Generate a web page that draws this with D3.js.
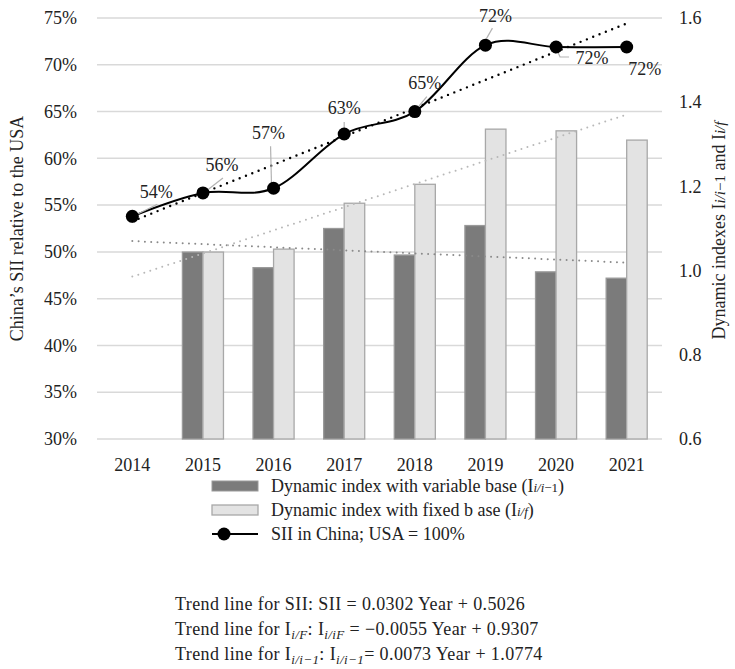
<!DOCTYPE html>
<html>
<head>
<meta charset="utf-8">
<script src="https://cdn.jsdelivr.net/npm/d3@7"></script>
<style>
  html, body { margin: 0; padding: 0; background: #fff; }
  svg text { font-family: "Liberation Serif", "Times New Roman", serif; fill: #222; }
</style>
</head>
<body>
<svg id="chart" width="735" height="669"></svg>
<script>
// Years on the category axis
const years = ["2014", "2015", "2016", "2017", "2018", "2019", "2020", "2021"];
// China's SII relative to the USA (share, USA = 1)
const sii = [0.538, 0.563, 0.568, 0.626, 0.650, 0.721, 0.719, 0.719];
// Dynamic index with variable base (I i/i-1); no value for 2014
const varBase = [null, 1.044, 1.007, 1.100, 1.037, 1.107, 0.997, 0.982];
// Dynamic index with fixed base (I i/f); no value for 2014
const fixBase = [null, 1.044, 1.051, 1.160, 1.205, 1.336, 1.332, 1.310];
// Linear trend coefficients [slope, intercept], Year = 1..8
const trendSII = [0.0302, 0.5026];
const trendFix = [0.0550, 0.9307];
const trendVar = [-0.0073, 1.0774];
// Tick values
const leftTicks = [0.30, 0.35, 0.40, 0.45, 0.50, 0.55, 0.60, 0.65, 0.70, 0.75];
const rightTicks = [0.6, 0.8, 1.0, 1.2, 1.4, 1.6];

const svg = d3.select("#chart");
const plotL = 97, plotR = 662, plotT = 18, plotB = 439;

const x = d3.scaleBand().domain(years).range([plotL, plotR]).padding(0);
const cx = d => x(d) + x.bandwidth() / 2;
const yL = d3.scaleLinear().domain([0.30, 0.75]).range([plotB, plotT]);
const yR = d3.scaleLinear().domain([0.6, 1.6]).range([plotB, plotT]);
const sub = d3.scaleBand().domain(["var", "fix"]).range([0, x.bandwidth()]).paddingInner(0).paddingOuter(0.72);

// Gridlines
svg.append("g").selectAll("line").data(leftTicks).join("line")
  .attr("x1", plotL).attr("x2", plotR)
  .attr("y1", d => yL(d)).attr("y2", d => yL(d))
  .attr("stroke", "#d9d9d9").attr("stroke-width", 1.5);

// Left axis labels
const axL = svg.append("g").attr("transform", `translate(${plotL - 20},0)`)
  .call(d3.axisLeft(yL).tickValues(leftTicks).tickFormat(d3.format(".0%")).tickSize(0).tickPadding(0));
axL.select(".domain").remove();
axL.selectAll("text").attr("font-size", 18).attr("font-family", "Liberation Serif").attr("fill", "#222");

// Right axis labels
const axR = svg.append("g").attr("transform", `translate(${plotR + 17},0)`)
  .call(d3.axisRight(yR).tickValues(rightTicks).tickFormat(d3.format(".1f")).tickSize(0).tickPadding(0));
axR.select(".domain").remove();
axR.selectAll("text").attr("font-size", 18).attr("font-family", "Liberation Serif").attr("fill", "#222");

// Category labels
const axX = svg.append("g").attr("transform", `translate(0,${plotB + 16})`)
  .call(d3.axisBottom(x).tickSize(0).tickPadding(0));
axX.select(".domain").remove();
axX.selectAll("text").attr("font-size", 18).attr("font-family", "Liberation Serif").attr("fill", "#222").attr("dy", "0.9em");

// Bars
const barData = [];
years.forEach((yr, i) => {
  if (varBase[i] != null) barData.push({ year: yr, key: "var", v: varBase[i] });
  if (fixBase[i] != null) barData.push({ year: yr, key: "fix", v: fixBase[i] });
});
svg.append("g").selectAll("rect").data(barData).join("rect")
  .attr("x", d => x(d.year) + sub(d.key))
  .attr("width", sub.bandwidth())
  .attr("y", d => yR(d.v))
  .attr("height", d => yR(0.6) - yR(d.v))
  .attr("fill", d => d.key === "var" ? "#7b7b7b" : "#e3e3e3")
  .attr("stroke", d => d.key === "var" ? "#9a9a9a" : "#a8a8a8")
  .attr("stroke-width", 1.3);

// Trend lines
const trendLine = (coef, scale, color, width, gap) => {
  const tp = years.map((yr, i) => [cx(yr), scale(coef[0] * (i + 1) + coef[1])]);
  svg.append("path").attr("d", d3.line()([tp[0], tp[tp.length - 1]]))
    .attr("fill", "none").attr("stroke", color).attr("stroke-width", width)
    .attr("stroke-linecap", "round").attr("stroke-dasharray", `0 ${gap}`);
};
trendLine(trendVar, yR, "#8a8a8a", 2, 6.3);
trendLine(trendFix, yR, "#b8b8b8", 2, 6.3);
trendLine(trendSII, yL, "#000", 2.4, 6.8);

// SII line
const pts = years.map((yr, i) => [cx(yr), yL(sii[i])]);
svg.append("path").attr("d", d3.line().curve(d3.curveCardinal.tension(0))(pts))
  .attr("fill", "none").attr("stroke", "#000").attr("stroke-width", 2);

// Leader lines and value labels
const labelLayout = [
  { t: [24, -24], lead: [[3, -1], [25, -12]] },
  { t: [19, -28], lead: [[2, -1], [20, -15]] },
  { t: [-5, -55], lead: [[-3, -42], [-2, -1]] },
  { t: [0, -26], lead: [[0, -12], [0, -2]] },
  { t: [10, -29], lead: [[2, -3], [12, -15]] },
  { t: [10, -29], lead: [[-1, -3], [7, -17]] },
  { t: [36, 11], lead: [[0, 1], [4, 10], [13, 10]] },
  { t: [18, 22], lead: null }
];
pts.forEach((p, i) => {
  const L = labelLayout[i];
  if (L.lead) {
    svg.append("path")
      .attr("d", d3.line()(L.lead.map(o => [p[0] + o[0], p[1] + o[1]])))
      .attr("fill", "none").attr("stroke", "#b3b3b3").attr("stroke-width", 1.2);
  }
});
svg.append("g").selectAll("circle").data(pts).join("circle")
  .attr("cx", d => d[0]).attr("cy", d => d[1]).attr("r", 6.5).attr("fill", "#000");
pts.forEach((p, i) => {
  const L = labelLayout[i];
  svg.append("text")
    .attr("x", p[0] + L.t[0]).attr("y", p[1] + L.t[1] + 6)
    .attr("text-anchor", "middle").attr("font-size", 18)
    .text(Math.round(sii[i] * 100) + "%");
});

// Axis titles
svg.append("text")
  .attr("transform", `translate(23,${(plotT + plotB) / 2}) rotate(-90)`)
  .attr("text-anchor", "middle").attr("font-size", 18)
  .text("China\u2019s SII relative to the USA");

const rt = svg.append("text")
  .attr("transform", `translate(725,${(plotT + plotB) / 2 + 2}) rotate(-90)`)
  .attr("text-anchor", "middle").attr("font-size", 18);
rt.append("tspan").text("Dynamic indexes I");
rt.append("tspan").attr("font-size", 15).attr("font-style", "italic").text("i/i");
rt.append("tspan").attr("font-size", 15).text("\u22121");
rt.append("tspan").text(" and I");
rt.append("tspan").attr("font-size", 15).attr("font-style", "italic").text("i/f");

// Legend
const lg = svg.append("g");
const lx = 212, lw = 46, tx = 271;
const rowY = [486, 510, 534];
lg.append("rect").attr("x", lx).attr("y", rowY[0] - 5).attr("width", lw).attr("height", 10)
  .attr("fill", "#7b7b7b").attr("stroke", "#9a9a9a").attr("stroke-width", 1);
lg.append("rect").attr("x", lx).attr("y", rowY[1] - 5).attr("width", lw).attr("height", 10)
  .attr("fill", "#e3e3e3").attr("stroke", "#a8a8a8").attr("stroke-width", 1.3);
lg.append("line").attr("x1", lx).attr("x2", lx + lw).attr("y1", rowY[2]).attr("y2", rowY[2])
  .attr("stroke", "#000").attr("stroke-width", 2);
lg.append("circle").attr("cx", lx + 12).attr("cy", rowY[2]).attr("r", 6.5).attr("fill", "#000");

const l1 = lg.append("text").attr("x", tx).attr("y", rowY[0] + 6).attr("font-size", 18);
l1.append("tspan").text("Dynamic index with variable base (I");
l1.append("tspan").attr("font-size", 13).attr("font-style", "italic").text("i/i");
l1.append("tspan").attr("font-size", 13).text("\u22121");
l1.append("tspan").text(")");
const l2 = lg.append("text").attr("x", tx).attr("y", rowY[1] + 6).attr("font-size", 18);
l2.append("tspan").text("Dynamic index with fixed b ase (I");
l2.append("tspan").attr("font-size", 13).attr("font-style", "italic").text("i/f");
l2.append("tspan").text(")");
lg.append("text").attr("x", tx).attr("y", rowY[2] + 6).attr("font-size", 18)
  .text("SII in China; USA = 100%");

// Trend equations
const eq = svg.append("g").attr("letter-spacing", "0.4px");
const ex = 175, eqY = [610, 635, 660];
eq.append("text").attr("x", ex).attr("y", eqY[0]).attr("font-size", 18)
  .text("Trend line for SII: SII = 0.0302 Year + 0.5026");
const e2 = eq.append("text").attr("x", ex).attr("y", eqY[1]).attr("font-size", 18);
e2.append("tspan").text("Trend line for I");
e2.append("tspan").attr("font-size", 13).attr("font-style", "italic").attr("dy", 4).text("i/F");
e2.append("tspan").attr("dy", -4).text(": I");
e2.append("tspan").attr("font-size", 13).attr("font-style", "italic").attr("dy", 4).text("i/iF");
e2.append("tspan").attr("dy", -4).text(" = \u22120.0055 Year + 0.9307");
const e3 = eq.append("text").attr("x", ex).attr("y", eqY[2]).attr("font-size", 18);
e3.append("tspan").text("Trend line for I");
e3.append("tspan").attr("font-size", 13).attr("font-style", "italic").attr("dy", 4).text("i/i\u22121");
e3.append("tspan").attr("dy", -4).text(": I");
e3.append("tspan").attr("font-size", 13).attr("font-style", "italic").attr("dy", 4).text("i/i\u22121");
e3.append("tspan").attr("dy", -4).text("= 0.0073 Year + 1.0774");
</script>
</body>
</html>
